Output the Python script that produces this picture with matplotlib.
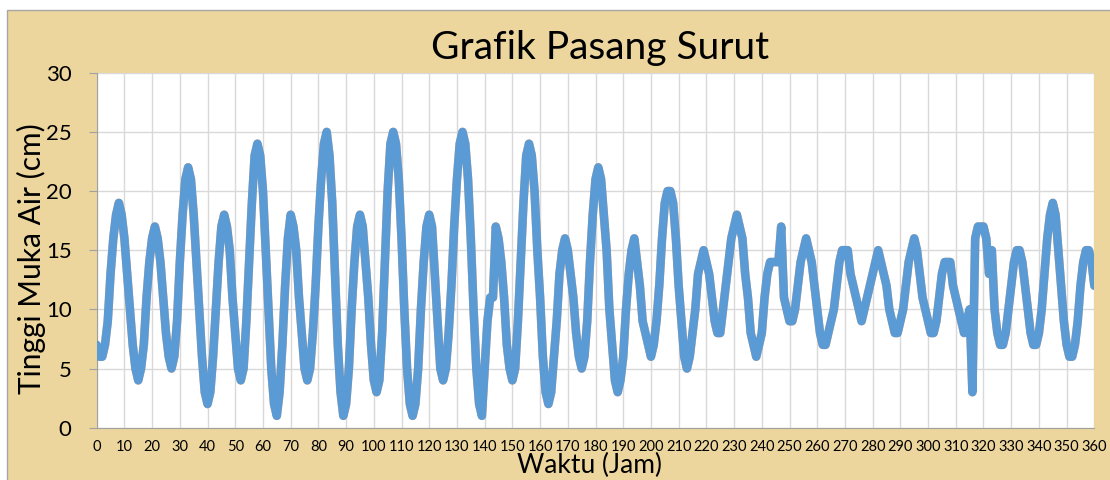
import matplotlib.pyplot as plt
from matplotlib.patches import Rectangle

# Hourly water level readings (cm), hour 0 to 360
hours = list(range(0, 361))
water_level = [
    7, 6, 6, 7, 9, 13, 16, 18, 19, 18,
    16, 13, 10, 7, 5, 4, 5, 7, 11, 14,
    16, 17, 16, 14, 11, 8, 6, 5, 6, 9,
    14, 18, 21, 22, 21, 18, 14, 10, 6, 3,
    2, 3, 6, 10, 14, 17, 18, 17, 15, 11,
    8, 5, 4, 5, 9, 14, 19, 23, 24, 23,
    20, 15, 10, 5, 2, 1, 3, 7, 12, 16,
    18, 17, 15, 11, 8, 5, 4, 5, 8, 12,
    17, 21, 24, 25, 23, 19, 13, 7, 3, 1,
    2, 5, 10, 14, 17, 18, 17, 14, 11, 7,
    4, 3, 4, 8, 14, 20, 24, 25, 24, 21,
    16, 10, 5, 2, 1, 2, 5, 10, 14, 17,
    18, 17, 13, 9, 5, 4, 5, 8, 12, 17,
    21, 24, 25, 24, 21, 16, 10, 5, 2, 1,
    5, 9, 11, 11, 17, 16, 14, 11, 7, 5,
    4, 5, 9, 14, 19, 23, 24, 23, 20, 15,
    11, 6, 3, 2, 3, 6, 9, 13, 15, 16,
    15, 13, 11, 8, 6, 5, 6, 9, 14, 18,
    21, 22, 21, 18, 15, 10, 7, 4, 3, 4,
    6, 10, 13, 15, 16, 14, 12, 9, 8, 7,
    6, 7, 9, 12, 16, 19, 20, 20, 19, 16,
    12, 9, 6, 5, 6, 8, 10, 13, 14, 15,
    14, 13, 11, 9, 8, 8, 10, 12, 14, 16,
    17, 18, 17, 16, 13, 11, 8, 7, 6, 7,
    8, 11, 13, 14, 14, 14, 14, 17, 11, 10,
    9, 9, 10, 12, 14, 15, 16, 15, 14, 12,
    10, 8, 7, 7, 8, 9, 10, 12, 14, 15,
    15, 15, 13, 12, 11, 10, 9, 10, 11, 12,
    13, 14, 15, 14, 13, 12, 10, 9, 8, 8,
    9, 10, 12, 14, 15, 16, 15, 13, 11, 10,
    9, 8, 8, 9, 11, 13, 14, 14, 14, 12,
    11, 10, 9, 8, 9, 10, 3, 16, 17, 17,
    17, 16, 13, 15, 10, 8, 7, 7, 8, 10,
    12, 14, 15, 15, 14, 12, 10, 8, 7, 7,
    8, 10, 13, 16, 18, 19, 18, 15, 12, 9,
    7, 6, 6, 7, 9, 12, 14, 15, 15, 14,
    12,
]

x_ticks = list(range(0, 361, 10))
y_ticks = list(range(0, 31, 5))

plt.rcParams["font.family"] = ["Lato", "DejaVu Sans"]

fig = plt.figure(figsize=(11.1, 4.8), dpi=100)
fig.patch.set_facecolor("white")

# Parchment-like chart background with thin grey border
fig.patches.append(Rectangle((0.0063, -0.1), 1.2, 1.079, transform=fig.transFigure,
                             facecolor="#ECD69E", edgecolor="#A6A6A6", lw=1, zorder=-1))

ax = fig.add_axes([0.0871, 0.109, 0.8988, 0.7395])
ax.set_zorder(2)
ax.set_facecolor("white")

# Orange series sits under the blue one (same values)
ax.plot(hours, water_level, color="#ED7D31", lw=6.2, alpha=0.6,
        solid_joinstyle="round", solid_capstyle="round", zorder=3)
ax.plot(hours, water_level, color="#5B9BD5", lw=6.1,
        solid_joinstyle="round", solid_capstyle="round", zorder=4)

ax.set_xlim(0, 360)
ax.set_ylim(0, 30)
ax.set_xticks(x_ticks)
ax.set_yticks(y_ticks)

ax.grid(True, color="#D9D9D9", lw=1)
ax.set_axisbelow(True)

for side in ["top", "right"]:
    ax.spines[side].set_visible(False)
for side in ["left", "bottom"]:
    ax.spines[side].set_color("#A0A0A0")

ax.tick_params(axis="x", length=0, labelsize=10.5, pad=9)
ax.tick_params(axis="y", length=6, color="#A0A0A0", labelsize=16, pad=12)

ax.set_xlabel("Waktu (Jam)", fontsize=19)
ax.xaxis.set_label_coords(0.4935, -0.072)
ax.set_ylabel("Tinggi Muka Air (cm)", fontsize=21.5)
ax.yaxis.set_label_coords(-0.051, 0.475)

fig.text(0.5405, 0.90, "Grafik Pasang Surut", fontsize=28, ha="center", va="center")

fig.savefig("out.png", dpi=100)
